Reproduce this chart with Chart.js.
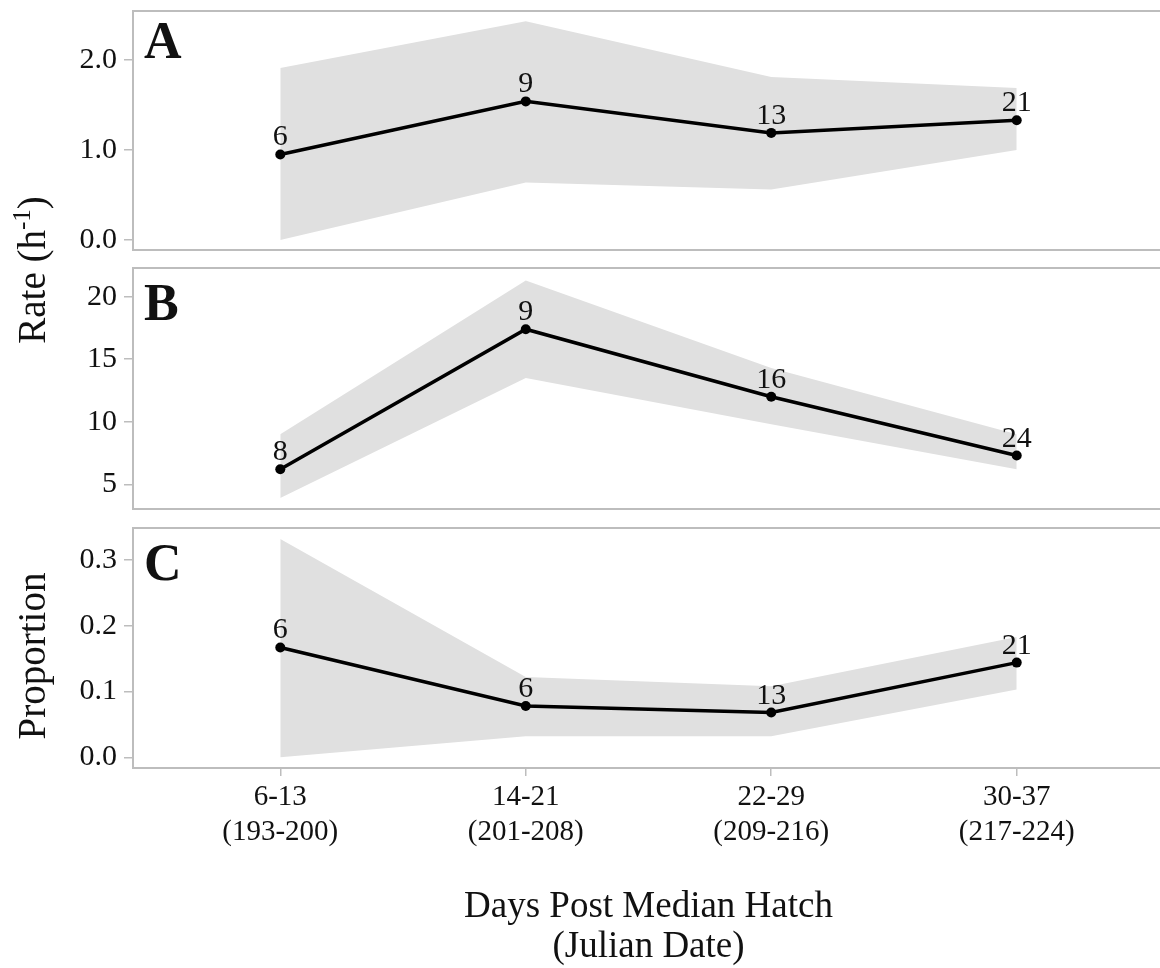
<!DOCTYPE html>
<html>
<head>
<meta charset="utf-8">
<script src="https://cdn.jsdelivr.net/npm/chart.js@4.4.1/dist/chart.umd.min.js"></script>
<style>
  html, body { margin: 0; padding: 0; background: #fff; overflow: hidden; width: 1160px; height: 968px; }
  canvas { position: absolute; left: 0; top: 0; }
</style>
</head>
<body>
<canvas id="panelA" width="1170" height="968"></canvas>
<canvas id="panelB" width="1170" height="968"></canvas>
<canvas id="panelC" width="1170" height="968"></canvas>
<script>
// categories (days post median hatch / julian date)
const categories = [
  ['6-13', '(193-200)'],
  ['14-21', '(201-208)'],
  ['22-29', '(209-216)'],
  ['30-37', '(217-224)']
];
const xPos = [0, 1, 2, 3];

// panel A - rate (h-1)
const rateA = [0.95, 1.54, 1.19, 1.33];
const lowA = [0.00, 0.64, 0.56, 1.00];
const highA = [1.91, 2.43, 1.81, 1.69];
const nA = [6, 9, 13, 21];
const ticksA = [0, 1, 2];

// panel B - rate
const rateB = [6.2, 17.4, 12.0, 7.3];
const lowB = [3.9, 13.5, 9.8, 6.2];
const highB = [9.0, 21.3, 14.3, 9.0];
const nB = [8, 9, 16, 24];
const ticksB = [5, 10, 15, 20];

// panel C - proportion
const propC = [0.167, 0.078, 0.068, 0.144];
const lowC = [0.000, 0.032, 0.032, 0.103];
const highC = [0.332, 0.122, 0.108, 0.183];
const nC = [6, 6, 13, 21];
const ticksC = [0, 0.1, 0.2, 0.3];

const FONT = 'Liberation Serif';
const BAND = '#e0e0e0';
const FRAME = '#bdbdbd';
const INK = '#111';

const toXY = arr => arr.map((v, i) => ({ x: xPos[i], y: v }));

function txt(ctx, s, x, y, font, align) {
  ctx.save();
  ctx.font = font;
  ctx.fillStyle = INK;
  ctx.textAlign = align;
  ctx.textBaseline = 'alphabetic';
  ctx.fillText(s, x, y);
  ctx.restore();
}

// frame, panel letter, n labels, titles
const decor = {
  id: 'decor',
  afterDatasetsDraw(chart, args, opts) {
    const ctx = chart.ctx;
    const area = chart.chartArea;
    const meta = chart.getDatasetMeta(2);
    meta.data.forEach((pt, i) => {
      txt(ctx, String(opts.counts[i]), pt.x, pt.y - 9, '30px ' + FONT, 'center');
    });
    txt(ctx, opts.letter, 144, area.top + opts.letterBase, 'bold 52px ' + FONT, 'left');
  },
  afterDraw(chart, args, opts) {
    const ctx = chart.ctx;
    const a = chart.chartArea;
    ctx.save();
    ctx.strokeStyle = FRAME;
    ctx.lineWidth = 2;
    ctx.strokeRect(a.left, a.top, a.right - a.left, a.bottom - a.top);
    ctx.restore();
    if (opts.extra) opts.extra(chart, ctx);
  }
};

function makePanel(id, vals, low, high, counts, ticks, yMin, yMax, top, bottom, letter, letterBase, fmt, xTicks, extra) {
  return new Chart(document.getElementById(id), {
    type: 'line',
    data: {
      datasets: [
        { data: toXY(low), borderWidth: 0, pointRadius: 0, fill: false, order: 2 },
        { data: toXY(high), borderWidth: 0, pointRadius: 0, fill: '-1', backgroundColor: BAND, order: 1 },
        { data: toXY(vals), borderColor: '#000', borderWidth: 3.5, pointRadius: 5,
          pointBackgroundColor: '#000', pointBorderWidth: 0, fill: false, order: 0 }
      ]
    },
    options: {
      responsive: false,
      animation: false,
      events: [],
      tension: 0,
      layout: { padding: { top: top, bottom: 968 - bottom, left: 0, right: 6 } },
      plugins: {
        legend: { display: false },
        tooltip: { enabled: false },
        decor: { counts: counts, letter: letter, letterBase: letterBase, extra: extra }
      },
      scales: {
        x: {
          type: 'linear',
          min: -0.6,
          max: 3.6,
          afterBuildTicks: s => { s.ticks = xPos.map(v => ({ value: v })); },
          afterFit: s => { s.height = 0; s.paddingLeft = 0; s.paddingRight = 0; },
          ticks: { display: false },
          grid: { display: xTicks, drawOnChartArea: false, drawTicks: true, tickLength: 8, color: FRAME, lineWidth: 1.5 },
          border: { display: false }
        },
        y: {
          min: yMin,
          max: yMax,
          afterBuildTicks: s => { s.ticks = ticks.map(v => ({ value: v })); },
          afterFit: s => { s.width = 133; s.paddingTop = 0; s.paddingBottom = 0; },
          ticks: {
            padding: 7,
            color: INK,
            font: { family: FONT, size: 30 },
            callback: v => fmt(v)
          },
          grid: { drawOnChartArea: false, drawTicks: true, tickLength: 9, color: FRAME, lineWidth: 1.5 },
          border: { display: false }
        }
      }
    },
    plugins: [decor]
  });
}

// y title spanning panels A and B, with superscript
function rateTitle(chart, ctx) {
  ctx.save();
  ctx.fillStyle = INK;
  ctx.textBaseline = 'alphabetic';
  ctx.translate(45, 270);
  ctx.rotate(-Math.PI / 2);
  const main = '39px ' + FONT, sup = '25px ' + FONT;
  ctx.font = main; const w1 = ctx.measureText('Rate (h').width; const w3 = ctx.measureText(')').width;
  ctx.font = sup; const w2 = ctx.measureText('-1').width;
  let x = -(w1 + w2 + w3) / 2;
  ctx.textAlign = 'left';
  ctx.font = main; ctx.fillText('Rate (h', x, 0); x += w1;
  ctx.font = sup; ctx.fillText('-1', x, -15); x += w2;
  ctx.font = main; ctx.fillText(')', x, 0);
  ctx.restore();
}

function bottomTitles(chart, ctx) {
  const xs = chart.scales.x;
  xPos.forEach(i => {
    const px = xs.getPixelForValue(i);
    txt(ctx, categories[i][0], px, 805, '29px ' + FONT, 'center');
    txt(ctx, categories[i][1], px, 840, '29px ' + FONT, 'center');
  });
  const mid = (chart.chartArea.left + chart.chartArea.right) / 2;
  txt(ctx, 'Days Post Median Hatch', mid, 917, '37px ' + FONT, 'center');
  txt(ctx, '(Julian Date)', mid, 957, '37px ' + FONT, 'center');

  ctx.save();
  ctx.fillStyle = INK;
  ctx.font = '39px ' + FONT;
  ctx.textAlign = 'center';
  ctx.textBaseline = 'alphabetic';
  ctx.translate(45, 656);
  ctx.rotate(-Math.PI / 2);
  ctx.fillText('Proportion', 0, 0);
  ctx.restore();
}

const fmt1 = v => v.toFixed(1);
const fmt0 = v => String(v);

makePanel('panelA', rateA, lowA, highA, nA, ticksA, -0.111, 2.544, 11, 250, 'A', 47, fmt1, false, rateTitle);
makePanel('panelB', rateB, lowB, highB, nB, ticksB, 3.03, 22.29, 268, 509, 'B', 52, fmt0, false, null);
makePanel('panelC', propC, lowC, highC, nC, ticksC, -0.0163, 0.3487, 528, 768, 'C', 52, fmt1, true, bottomTitles);
</script>
</body>
</html>
